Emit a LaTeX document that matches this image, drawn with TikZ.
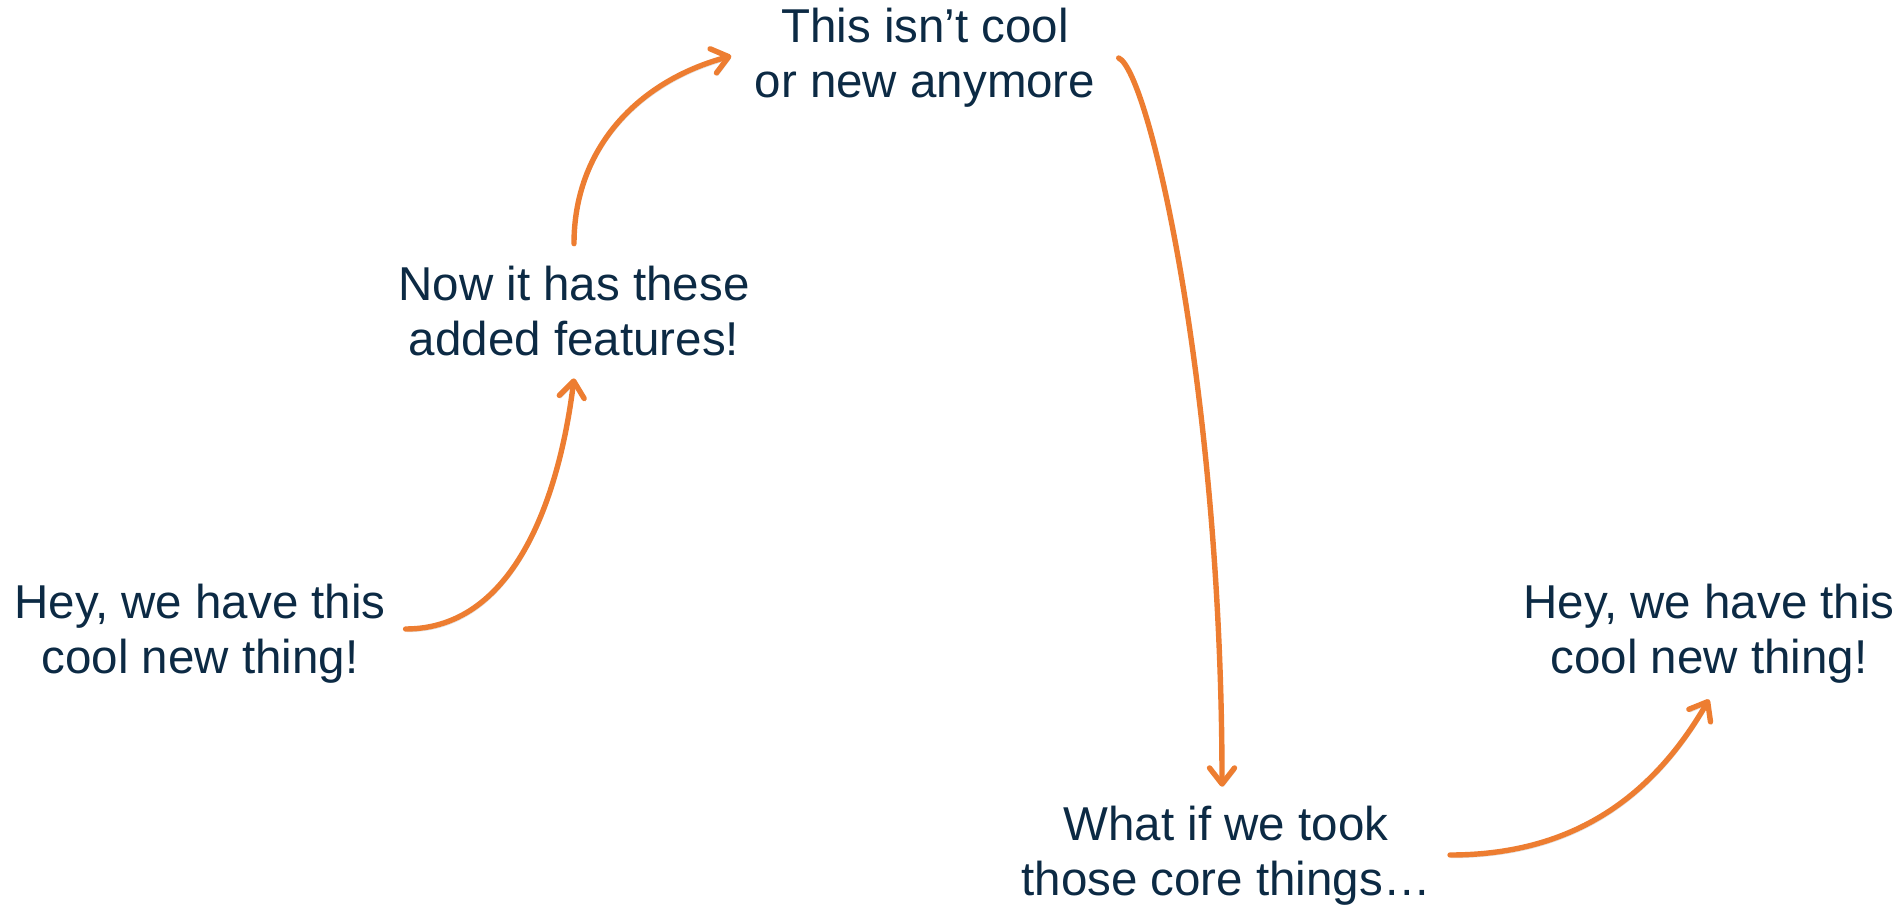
\documentclass[tikz,border=0pt]{standalone}
\usepackage{fontspec}
\setmainfont{Liberation Sans}
\usetikzlibrary{arrows.meta}

\definecolor{hoporange}{RGB}{237,125,49}
\definecolor{phasenavy}{RGB}{12,42,68}

\begin{document}
\begin{tikzpicture}[x=0.5pt, y=0.5pt,
  phase/.style={align=center, inner sep=0pt, text=phasenavy,
    font=\fontsize{23.75}{27.5}\selectfont,
    execute at begin node=\strut, execute at end node=\strut},
  hop/.style={draw=hoporange, line width=2.7pt, line cap=round,
    -{Straight Barb[length=8pt, width=12.5pt, round]},
    preaction={draw=black, draw opacity=0.12,
      transform canvas={shift={(0.6pt,-1.4pt)}}}}]

\useasboundingbox (0,0) rectangle (1899,912);

% Draw the phases
\node[phase] (newthing)   at (200,274.5)  {Hey, we have this\\cool new thing!};
\node[phase] (features)   at (574,592.5)  {Now it has these\\added features!};
\node[phase] (notcool)    at (925,850.5)  {This isn’t cool\\or new anymore};
\node[phase] (coretaking) at (1226,52.5)  {What if we took\\those core things…};
\node[phase] (newagain)   at (1709,274.5) {Hey, we have this\\cool new thing!};

% Draw the arrows
\draw[hop] ([xshift=9.75pt, yshift=4.25pt]newthing.east)
  to[out=0, in=263, looseness=0.95] ([yshift=-2.75pt]features.south);
\draw[hop] ([yshift=11.25pt]features.north)
  to[out=90, in=195] ([xshift=-11.5pt, yshift=2.75pt]notcool.west);
\draw[hop] ([xshift=11.5pt, yshift=1.75pt]notcool.east)
  .. controls +(31,-14) and +(0,392) .. ([xshift=-2pt, yshift=9.75pt]coretaking.north);
\draw[hop] ([xshift=9.5pt, yshift=2.25pt]coretaking.east)
  to[out=0, in=240] ([yshift=-4.25pt]newagain.south);

\end{tikzpicture}
\end{document}
